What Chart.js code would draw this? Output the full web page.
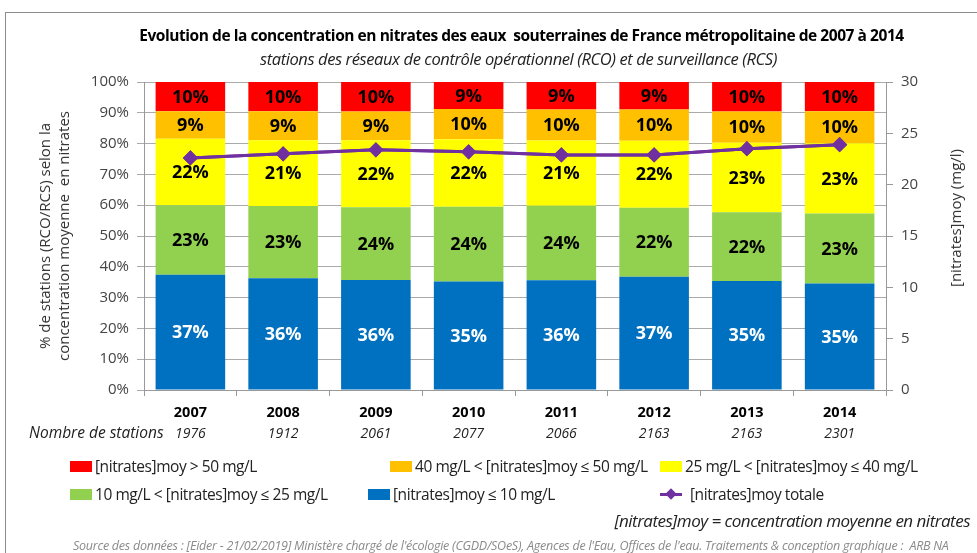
<!DOCTYPE html>
<html>
<head>
<meta charset="utf-8">
<script src="https://cdn.jsdelivr.net/npm/chart.js@4.4.1/dist/chart.umd.min.js"></script>
<style>
  body { margin: 0; background: #fff; font-family: "Open Sans", sans-serif; }
  #wrap { position: relative; width: 977px; height: 553px; overflow: hidden; }
  #frame { position: absolute; left: 5px; top: 12px; width: 1000px; height: 600px; border: 1px solid #8c8c8c; }
  #chart { position: absolute; left: 0; top: 0; }
  .txt { position: absolute; white-space: nowrap; }
  #title { left: 0; width: 1043px; top: 24px; text-align: center; font-weight: bold; font-size: 15.5px; letter-spacing: -0.45px; color: #000; }
  #subtitle { left: 0; width: 1037px; top: 47px; text-align: center; font-style: italic; font-size: 16.5px; letter-spacing: -0.4px; color: #222; }
  #yl { left: 54px; top: 236px; transform: translate(-50%, -50%) rotate(-90deg); text-align: center; font-size: 15px; line-height: 19px; color: #333; }
  #yr { left: 955px; top: 218px; transform: translate(-50%, -50%) rotate(-90deg); font-size: 15px; color: #333; }
  .leg { position: absolute; font-size: 15.5px; color: #222; letter-spacing: -0.45px; }
  .sw { position: absolute; width: 22px; height: 11px; }
  #note { right: 7px; top: 509px; font-style: italic; font-size: 17px; color: #222; letter-spacing: -0.5px; }
  #source { left: 73px; top: 537px; font-style: italic; font-size: 12.5px; color: #8a8a8a; letter-spacing: -0.25px; }
</style>
</head>
<body>
<div id="wrap">
  <div id="frame"></div>
  <canvas id="chart" width="977" height="553"></canvas>
  <div class="txt" id="title">Evolution de la concentration en nitrates des eaux&nbsp; souterraines de France métropolitaine de 2007 à 2014</div>
  <div class="txt" id="subtitle">stations des réseaux de contrôle opérationnel (RCO) et de surveillance (RCS)</div>
  <div class="txt" id="yl">% de stations (RCO/RCS) selon la<br>concentration moyenne&nbsp; en nitrates</div>
  <div class="txt" id="yr">[nitrates]moy (mg/l)</div>
  <div id="legend"></div>
  <div class="txt" id="note">[nitrates]moy = concentration moyenne en nitrates</div>
  <div class="txt" id="source">Source des données : [Eider - 21/02/2019] Ministère chargé de l'écologie (CGDD/SOeS), Agences de l'Eau, Offices de l'eau. Traitements &amp; conception graphique :&nbsp; ARB NA</div>
</div>
<script>
// data
var years = ['2007', '2008', '2009', '2010', '2011', '2012', '2013', '2014'];
var stations = ['1976', '1912', '2061', '2077', '2066', '2163', '2163', '2301'];

var pctLe10 = [37.4, 36.3, 35.7, 35.2, 35.6, 36.8, 35.4, 34.6];
var pct10to25 = [22.6, 23.4, 23.6, 24.3, 24.2, 22.4, 22.3, 22.7];
var pct25to40 = [21.6, 21.4, 21.8, 21.9, 21.2, 21.7, 22.6, 22.8];
var pct40to50 = [8.9, 9.4, 9.3, 9.8, 10.1, 10.2, 10.1, 10.4];
var pctGt50 = [9.5, 9.5, 9.6, 8.8, 8.9, 8.9, 9.6, 9.5];
var meanNitrates = [22.6, 23.0, 23.4, 23.2, 22.9, 22.9, 23.5, 23.9];

var barSeries = [
  { label: '[nitrates]moy ≤ 10 mg/L', data: pctLe10, color: '#0070C0', text: '#fff' },
  { label: '10 mg/L < [nitrates]moy ≤ 25 mg/L', data: pct10to25, color: '#92D050', text: '#000' },
  { label: '25 mg/L < [nitrates]moy ≤ 40 mg/L', data: pct25to40, color: '#FFFF00', text: '#000' },
  { label: '40 mg/L < [nitrates]moy ≤ 50 mg/L', data: pct40to50, color: '#FFC000', text: '#000' },
  { label: '[nitrates]moy > 50 mg/L', data: pctGt50, color: '#FF0000', text: '#000' }
];
var lineLabel = '[nitrates]moy totale';
var lineColor = '#7030A0';

var datasets = [{
  type: 'line',
  label: lineLabel,
  data: meanNitrates,
  yAxisID: 'y2',
  borderColor: lineColor,
  backgroundColor: lineColor,
  borderWidth: 3,
  pointStyle: 'rectRot',
  pointRadius: 5.5,
  pointHoverRadius: 5.5,
  tension: 0,
  order: 0
}];
barSeries.forEach(function(s) {
  datasets.push({
    type: 'bar',
    label: s.label,
    data: s.data,
    backgroundColor: s.color,
    yAxisID: 'y',
    barPercentage: 0.75,
    categoryPercentage: 1,
    order: 1
  });
});

// percentage labels inside the bar segments + number of stations row
var labelsPlugin = {
  id: 'labels',
  afterDatasetsDraw: function(chart) {
    var ctx = chart.ctx;
    ctx.save();
    ctx.textAlign = 'center';
    ctx.textBaseline = 'middle';
    ctx.font = 'bold 18px "Open Sans"';
    barSeries.forEach(function(s, k) {
      var meta = chart.getDatasetMeta(k + 1);
      meta.data.forEach(function(bar, i) {
        var mid = (bar.y + bar.base) / 2;
        ctx.fillStyle = s.text;
        ctx.fillText(Math.round(s.data[i]) + '%', bar.x, mid + 1);
      });
    });
    // redraw the line above the labels
    chart.getDatasetMeta(0).controller.draw();
    ctx.restore();
  },
  afterDraw: function(chart) {
    var ctx = chart.ctx;
    var x = chart.scales.x;
    ctx.save();
    ctx.fillStyle = '#222';
    ctx.textBaseline = 'middle';
    ctx.font = 'italic 14px "Open Sans"';
    ctx.textAlign = 'center';
    stations.forEach(function(n, i) {
      ctx.fillText(n, x.getPixelForValue(i), 434);
    });
    ctx.font = 'italic 15.5px "Open Sans"';
    ctx.textAlign = 'left';
    ctx.fillText('Nombre de stations', 29, 434);
    ctx.restore();
  }
};

new Chart(document.getElementById('chart').getContext('2d'), {
  data: { labels: years, datasets: datasets },
  plugins: [labelsPlugin],
  options: {
    responsive: false,
    animation: false,
    layout: { padding: { top: 82, left: 0, right: 0, bottom: 0 } },
    plugins: { legend: { display: false }, tooltip: { enabled: false } },
    scales: {
      x: {
        stacked: true,
        afterFit: function(s) { s.height = 163; },
        grid: { offset: true, drawOnChartArea: false, tickLength: 6, color: '#999' },
        border: { color: '#999' },
        ticks: { color: '#000', font: { family: 'Open Sans', size: 14.5, weight: 'bold' }, padding: 8 }
      },
      y: {
        stacked: true,
        position: 'left',
        min: 0, max: 100,
        afterFit: function(s) { s.width = 144; },
        grid: { color: '#aaa', tickLength: 7 },
        border: { color: '#999' },
        ticks: { stepSize: 10, color: '#444', padding: 8, font: { family: 'Open Sans', size: 15 },
          callback: function(v) { return v + '%'; } }
      },
      y2: {
        position: 'right',
        min: 0, max: 30,
        afterFit: function(s) { s.width = 91; },
        grid: { drawOnChartArea: false, tickLength: 7, color: '#999' },
        border: { color: '#999' },
        ticks: { stepSize: 5, color: '#444', padding: 8, font: { family: 'Open Sans', size: 15 } }
      }
    }
  }
});

// legend built from the series
var legendItems = [
  { s: barSeries[4], x: 70, y: 455 },
  { s: barSeries[3], x: 390, y: 455 },
  { s: barSeries[2], x: 660, y: 455 },
  { s: barSeries[1], x: 70, y: 483 },
  { s: barSeries[0], x: 368, y: 483 },
  { s: { label: lineLabel, color: lineColor, line: true }, x: 660, y: 483 }
];
var legend = document.getElementById('legend');
legendItems.forEach(function(it) {
  var sw = document.createElement('div');
  sw.className = 'sw';
  sw.style.left = it.x + 'px';
  if (it.s.line) {
    sw.style.top = (it.y + 10) + 'px';
    sw.style.height = '3px';
    sw.style.background = it.s.color;
    var d = document.createElement('div');
    d.style.cssText = 'position:absolute;left:7px;top:-3.5px;width:8px;height:8px;background:' + it.s.color + ';transform:rotate(45deg)';
    sw.appendChild(d);
  } else {
    sw.style.top = (it.y + 6) + 'px';
    sw.style.background = it.s.color;
  }
  legend.appendChild(sw);
  var t = document.createElement('div');
  t.className = 'leg';
  t.style.left = (it.x + (it.s.line ? 30 : 25)) + 'px';
  t.style.top = it.y + 'px';
  t.textContent = it.s.label;
  legend.appendChild(t);
});
</script>
</body>
</html>
